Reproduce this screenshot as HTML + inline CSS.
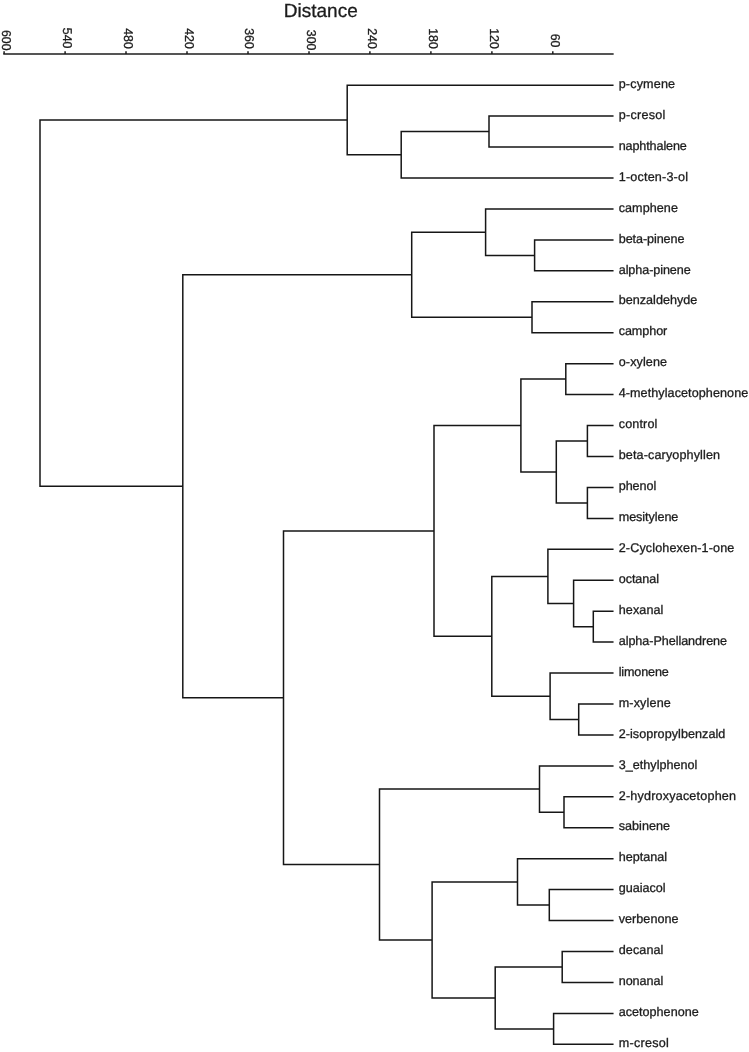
<!DOCTYPE html>
<html><head><meta charset="utf-8"><title>Dendrogram</title>
<style>
html,body{margin:0;padding:0;background:#fff;}
body{width:749px;height:1052px;overflow:hidden;}
svg{display:block;}
svg text{font-family:"Liberation Sans",Arial,Helvetica,sans-serif;fill:#1c1c1c;stroke:#1c1c1c;stroke-width:0.3px;font-kerning:none;text-rendering:geometricPrecision;}
</style></head><body>
<svg width="749" height="1052" viewBox="0 0 749 1052">
<rect width="749" height="1052" fill="#ffffff"/>
<text x="320.8" y="17.2" font-size="19" text-anchor="middle">Distance</text>
<g stroke="#1c1c1c" stroke-width="1.5" fill="none" stroke-linecap="square">
<line x1="4.0" y1="53.9" x2="612.9" y2="53.9"/>
<line x1="4.1" y1="53.9" x2="4.1" y2="51.2" stroke-linecap="butt"/>
<line x1="65.1" y1="53.9" x2="65.1" y2="51.2" stroke-linecap="butt"/>
<line x1="126.0" y1="53.9" x2="126.0" y2="51.2" stroke-linecap="butt"/>
<line x1="187.0" y1="53.9" x2="187.0" y2="51.2" stroke-linecap="butt"/>
<line x1="248.0" y1="53.9" x2="248.0" y2="51.2" stroke-linecap="butt"/>
<line x1="309.0" y1="53.9" x2="309.0" y2="51.2" stroke-linecap="butt"/>
<line x1="369.9" y1="53.9" x2="369.9" y2="51.2" stroke-linecap="butt"/>
<line x1="430.9" y1="53.9" x2="430.9" y2="51.2" stroke-linecap="butt"/>
<line x1="491.9" y1="53.9" x2="491.9" y2="51.2" stroke-linecap="butt"/>
<line x1="552.8" y1="53.9" x2="552.8" y2="51.2" stroke-linecap="butt"/>
</g>
<text transform="translate(1.6,50.6) scale(1,0.968) rotate(90)" font-size="12.8" text-anchor="end">600</text>
<text transform="translate(62.6,48.5) scale(1,0.968) rotate(90)" font-size="12.8" text-anchor="end">540</text>
<text transform="translate(123.7,48.9) scale(1,0.968) rotate(90)" font-size="12.8" text-anchor="end">480</text>
<text transform="translate(184.7,48.9) scale(1,0.968) rotate(90)" font-size="12.8" text-anchor="end">420</text>
<text transform="translate(245.2,48.9) scale(1,0.968) rotate(90)" font-size="12.8" text-anchor="end">360</text>
<text transform="translate(306.5,50.5) scale(1,0.968) rotate(90)" font-size="12.8" text-anchor="end">300</text>
<text transform="translate(368.4,48.9) scale(1,0.968) rotate(90)" font-size="12.8" text-anchor="end">240</text>
<text transform="translate(429.0,48.9) scale(1,0.968) rotate(90)" font-size="12.8" text-anchor="end">180</text>
<text transform="translate(490.0,48.9) scale(1,0.968) rotate(90)" font-size="12.8" text-anchor="end">120</text>
<text transform="translate(550.9,47.5) scale(1,0.968) rotate(90)" font-size="12.8" text-anchor="end">60</text>
<path d="M489.0 116.1L612.8 116.1M489.0 147.1L612.8 147.1M489.0 116.1L489.0 147.1M401.2 131.6L489.0 131.6M401.2 178.0L612.8 178.0M401.2 131.6L401.2 178.0M347.2 85.2L612.8 85.2M347.2 154.8L401.2 154.8M347.2 85.2L347.2 154.8M534.6 239.9L612.8 239.9M534.6 270.8L612.8 270.8M534.6 239.9L534.6 270.8M485.6 209.0L612.8 209.0M485.6 255.4L534.6 255.4M485.6 209.0L485.6 255.4M532.0 301.8L612.8 301.8M532.0 332.7L612.8 332.7M532.0 301.8L532.0 332.7M411.7 232.2L485.6 232.2M411.7 317.2L532.0 317.2M411.7 232.2L411.7 317.2M565.8 363.7L612.8 363.7M565.8 394.6L612.8 394.6M565.8 363.7L565.8 394.6M587.4 425.5L612.8 425.5M587.4 456.5L612.8 456.5M587.4 425.5L587.4 456.5M587.4 487.4L612.8 487.4M587.4 518.4L612.8 518.4M587.4 487.4L587.4 518.4M556.3 441.0L587.4 441.0M556.3 502.9L587.4 502.9M556.3 441.0L556.3 502.9M520.9 379.1L565.8 379.1M520.9 471.9L556.3 471.9M520.9 379.1L520.9 471.9M593.3 611.2L612.8 611.2M593.3 642.1L612.8 642.1M593.3 611.2L593.3 642.1M573.6 580.2L612.8 580.2M573.6 626.7L593.3 626.7M573.6 580.2L573.6 626.7M547.9 549.3L612.8 549.3M547.9 603.4L573.6 603.4M547.9 549.3L547.9 603.4M578.7 704.0L612.8 704.0M578.7 734.9L612.8 734.9M578.7 704.0L578.7 734.9M550.1 673.1L612.8 673.1M550.1 719.5L578.7 719.5M550.1 673.1L550.1 719.5M491.8 576.4L547.9 576.4M491.8 696.3L550.1 696.3M491.8 576.4L491.8 696.3M434.0 425.5L520.9 425.5M434.0 636.3L491.8 636.3M434.0 425.5L434.0 636.3M564.0 796.8L612.8 796.8M564.0 827.8L612.8 827.8M564.0 796.8L564.0 827.8M539.5 765.9L612.8 765.9M539.5 812.3L564.0 812.3M539.5 765.9L539.5 812.3M549.3 889.6L612.8 889.6M549.3 920.6L612.8 920.6M549.3 889.6L549.3 920.6M517.5 858.7L612.8 858.7M517.5 905.1L549.3 905.1M517.5 858.7L517.5 905.1M562.2 951.5L612.8 951.5M562.2 982.5L612.8 982.5M562.2 951.5L562.2 982.5M553.6 1013.4L612.8 1013.4M553.6 1044.3L612.8 1044.3M553.6 1013.4L553.6 1044.3M495.2 967.0L562.2 967.0M495.2 1028.9L553.6 1028.9M495.2 967.0L495.2 1028.9M432.1 881.9L517.5 881.9M432.1 997.9L495.2 997.9M432.1 881.9L432.1 997.9M379.5 789.1L539.5 789.1M379.5 939.9L432.1 939.9M379.5 789.1L379.5 939.9M283.5 530.9L434.0 530.9M283.5 864.5L379.5 864.5M283.5 530.9L283.5 864.5M182.8 274.7L411.7 274.7M182.8 697.7L283.5 697.7M182.8 274.7L182.8 697.7M40.0 120.0L347.2 120.0M40.0 486.2L182.8 486.2M40.0 120.0L40.0 486.2" stroke="#161616" stroke-width="1.5" fill="none" stroke-linecap="square"/>
<text x="618.7" y="87.9" font-size="12.6" textLength="56.35" lengthAdjust="spacing">p-cymene</text>
<text x="618.7" y="118.8" font-size="12.6" textLength="46.55" lengthAdjust="spacing">p-cresol</text>
<text x="618.7" y="149.7" font-size="12.6" textLength="68.16" lengthAdjust="spacing">naphthalene</text>
<text x="618.7" y="180.7" font-size="12.6" textLength="69.31" lengthAdjust="spacing">1-octen-3-ol</text>
<text x="618.7" y="211.6" font-size="12.6" textLength="59.25" lengthAdjust="spacing">camphene</text>
<text x="618.7" y="242.6" font-size="12.6" textLength="65.80" lengthAdjust="spacing">beta-pinene</text>
<text x="618.7" y="273.5" font-size="12.6" textLength="72.00" lengthAdjust="spacing">alpha-pinene</text>
<text x="618.7" y="304.4" font-size="12.6" textLength="78.62" lengthAdjust="spacing">benzaldehyde</text>
<text x="618.7" y="335.4" font-size="12.6" textLength="48.57" lengthAdjust="spacing">camphor</text>
<text x="618.7" y="366.3" font-size="12.6" textLength="48.40" lengthAdjust="spacing">o-xylene</text>
<text x="618.7" y="397.2" font-size="12.6" textLength="129.57" lengthAdjust="spacing">4-methylacetophenone</text>
<text x="618.7" y="428.2" font-size="12.6" textLength="38.67" lengthAdjust="spacing">control</text>
<text x="618.7" y="459.1" font-size="12.6" textLength="101.40" lengthAdjust="spacing">beta-caryophyllen</text>
<text x="618.7" y="490.1" font-size="12.6" textLength="37.49" lengthAdjust="spacing">phenol</text>
<text x="618.7" y="521.0" font-size="12.6" textLength="59.66" lengthAdjust="spacing">mesitylene</text>
<text x="618.7" y="552.0" font-size="12.6" textLength="115.67" lengthAdjust="spacing">2-Cyclohexen-1-one</text>
<text x="618.7" y="582.9" font-size="12.6" textLength="40.37" lengthAdjust="spacing">octanal</text>
<text x="618.7" y="613.8" font-size="12.6" textLength="44.72" lengthAdjust="spacing">hexanal</text>
<text x="618.7" y="644.8" font-size="12.6" textLength="108.38" lengthAdjust="spacing">alpha-Phellandrene</text>
<text x="618.7" y="675.7" font-size="12.6" textLength="50.15" lengthAdjust="spacing">limonene</text>
<text x="618.7" y="706.7" font-size="12.6" textLength="52.14" lengthAdjust="spacing">m-xylene</text>
<text x="618.7" y="737.6" font-size="12.6" textLength="106.66" lengthAdjust="spacing">2-isopropylbenzald</text>
<text x="618.7" y="768.5" font-size="12.6" textLength="78.71" lengthAdjust="spacing">3_ethylphenol</text>
<text x="618.7" y="799.5" font-size="12.6" textLength="117.34" lengthAdjust="spacing">2-hydroxyacetophen</text>
<text x="618.7" y="830.4" font-size="12.6" textLength="51.30" lengthAdjust="spacing">sabinene</text>
<text x="618.7" y="861.4" font-size="12.6" textLength="48.33" lengthAdjust="spacing">heptanal</text>
<text x="618.7" y="892.3" font-size="12.6" textLength="46.92" lengthAdjust="spacing">guaiacol</text>
<text x="618.7" y="923.2" font-size="12.6" textLength="59.89" lengthAdjust="spacing">verbenone</text>
<text x="618.7" y="954.2" font-size="12.6" textLength="44.72" lengthAdjust="spacing">decanal</text>
<text x="618.7" y="985.1" font-size="12.6" textLength="44.57" lengthAdjust="spacing">nonanal</text>
<text x="618.7" y="1016.1" font-size="12.6" textLength="80.03" lengthAdjust="spacing">acetophenone</text>
<text x="618.7" y="1047.0" font-size="12.6" textLength="50.12" lengthAdjust="spacing">m-cresol</text>
</svg>
</body></html>
